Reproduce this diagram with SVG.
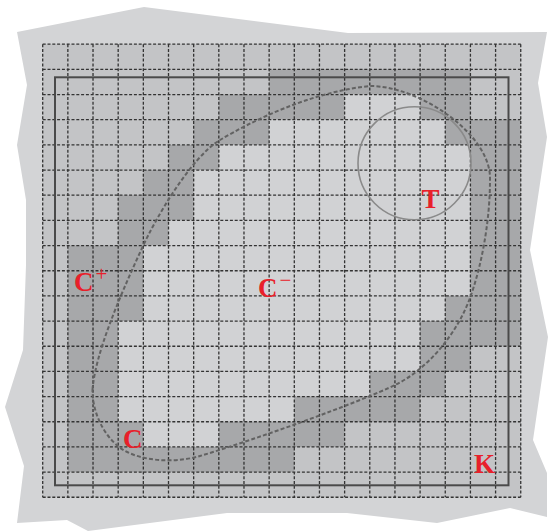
<svg xmlns="http://www.w3.org/2000/svg" width="548" height="531" viewBox="0 0 548 531">
<style>
.m{fill:#c3c4c6}.l{fill:#d1d2d4}.d{fill:#a7a8aa}
.grid{fill:none;stroke:#333333;stroke-width:1.3;stroke-dasharray:3 1.8}
.lab{font-family:"Liberation Serif","DejaVu Serif",serif;font-weight:bold;font-size:27px;fill:#e8202a}
.sup{font-weight:normal;font-size:21px}
</style>
<rect width="548" height="531" fill="#ffffff"/>
<polygon id="background" fill="#d3d4d6" points="17,32 144,7 348,33 547,32 538,83 547,137 530,250 548,337 533,440 547,473 547,517 510,508 437,523 347,513 227,513 88,531 67,520 17,523 24,466 5,407 23,350 26,265 26,200 17,145 27,85"/>
<g id="cells" transform="translate(42.7,44.2) scale(25.16,25.17)">
<rect class="m" x="0" y="0" width="19" height="18"/>
<rect class="d" x="9" y="1" width="8" height="1"/>
<rect class="d" x="7" y="2" width="5" height="1"/><rect class="l" x="12" y="2" width="3" height="1"/><rect class="d" x="15" y="2" width="2" height="1"/>
<rect class="d" x="6" y="3" width="3" height="1"/><rect class="l" x="9" y="3" width="7" height="1"/><rect class="d" x="16" y="3" width="3" height="1"/>
<rect class="d" x="5" y="4" width="2" height="1"/><rect class="l" x="7" y="4" width="10" height="1"/><rect class="d" x="17" y="4" width="2" height="1"/>
<rect class="d" x="4" y="5" width="2" height="1"/><rect class="l" x="6" y="5" width="11" height="1"/><rect class="d" x="17" y="5" width="2" height="1"/>
<rect class="d" x="3" y="6" width="3" height="1"/><rect class="l" x="6" y="6" width="11" height="1"/><rect class="d" x="17" y="6" width="2" height="1"/>
<rect class="d" x="3" y="7" width="2" height="1"/><rect class="l" x="5" y="7" width="12" height="1"/><rect class="d" x="17" y="7" width="2" height="1"/>
<rect class="d" x="1" y="8" width="3" height="1"/><rect class="l" x="4" y="8" width="13" height="1"/><rect class="d" x="17" y="8" width="2" height="1"/>
<rect class="d" x="1" y="9" width="3" height="1"/><rect class="l" x="4" y="9" width="13" height="1"/><rect class="d" x="17" y="9" width="2" height="1"/>
<rect class="d" x="1" y="10" width="3" height="1"/><rect class="l" x="4" y="10" width="12" height="1"/><rect class="d" x="16" y="10" width="3" height="1"/>
<rect class="d" x="1" y="11" width="2" height="1"/><rect class="l" x="3" y="11" width="12" height="1"/><rect class="d" x="15" y="11" width="4" height="1"/>
<rect class="d" x="1" y="12" width="2" height="1"/><rect class="l" x="3" y="12" width="12" height="1"/><rect class="d" x="15" y="12" width="2" height="1"/>
<rect class="d" x="1" y="13" width="2" height="1"/><rect class="l" x="3" y="13" width="10" height="1"/><rect class="d" x="13" y="13" width="3" height="1"/>
<rect class="d" x="1" y="14" width="2" height="1"/><rect class="l" x="3" y="14" width="7" height="1"/><rect class="d" x="10" y="14" width="5" height="1"/>
<rect class="d" x="1" y="15" width="3" height="1"/><rect class="l" x="4" y="15" width="3" height="1"/><rect class="d" x="7" y="15" width="5" height="1"/>
<rect class="d" x="1" y="16" width="9" height="1"/>
</g>
<path id="grid" class="grid" d="M42.7 44.2V497.3M67.86 44.2V497.3M93.02 44.2V497.3M118.18 44.2V497.3M143.34 44.2V497.3M168.5 44.2V497.3M193.66 44.2V497.3M218.82 44.2V497.3M243.98 44.2V497.3M269.14 44.2V497.3M294.3 44.2V497.3M319.46 44.2V497.3M344.62 44.2V497.3M369.78 44.2V497.3M394.94 44.2V497.3M420.1 44.2V497.3M445.26 44.2V497.3M470.42 44.2V497.3M495.58 44.2V497.3M520.74 44.2V497.3M42.7 44.2H520.74M42.7 69.37H520.74M42.7 94.54H520.74M42.7 119.71H520.74M42.7 144.88H520.74M42.7 170.05H520.74M42.7 195.22H520.74M42.7 220.39H520.74M42.7 245.56H520.74M42.7 270.73H520.74M42.7 295.9H520.74M42.7 321.07H520.74M42.7 346.24H520.74M42.7 371.41H520.74M42.7 396.58H520.74M42.7 421.75H520.74M42.7 446.92H520.74M42.7 472.09H520.74M42.7 497.26H520.74"/>
<rect id="frame" x="55" y="77.3" width="453.5" height="408" fill="none" stroke="#4a4a4a" stroke-width="2"/>
<path id="region-C" fill="none" stroke="#626262" stroke-width="2" stroke-dasharray="4 2.2" d="M92.5 390C95 355 118 300 143 246C155 220 190 158 220 140C250 122 310 92 370 86C420 86 492 135 490 180C490 220 482 265 470 298C458 331 430 368 395 385C360 402 260 438 200 456C180 462 148 463 125 451C106 440 92.5 415 92.5 390Z"/>
<circle id="region-T" cx="414.5" cy="163.3" r="56.5" fill="none" stroke="#8a8a8a" stroke-width="1.6"/>
<g id="labels">
<text class="lab" x="74" y="291">C<tspan class="sup" dx="2" dy="-10">+</tspan></text>
<text class="lab" x="258" y="296.5">C<tspan class="sup" dx="2" dy="-9.5">−</tspan></text>
<text class="lab" x="421.5" y="208.3">T</text>
<text class="lab" x="123" y="447.5">C</text>
<text class="lab" x="474" y="473">K</text>
</g>
</svg>
